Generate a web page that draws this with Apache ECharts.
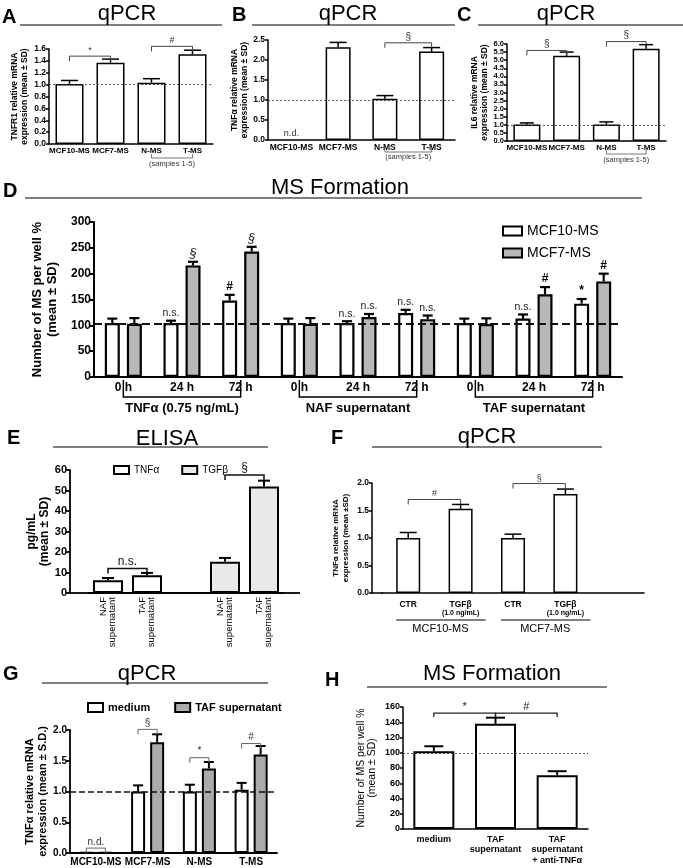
<!DOCTYPE html>
<html>
<head>
<meta charset="utf-8">
<script src="https://cdn.jsdelivr.net/npm/echarts@6.0.0/dist/echarts.min.js"></script>
<style>
html,body{margin:0;padding:0;background:#fff;}
#chart{width:683px;height:868px;}
</style>
</head>
<body>
<div id="chart"></div>
<script>
// ===================== DATA =====================
// Panels A-C
const abcCategories = ['MCF10-MS', 'MCF7-MS', 'N-MS', 'T-MS'];
const abcSamplesNote = '(samples 1-5)';
const aTnfr1 = [1.01, 1.37, 1.03, 1.51];
const aTnfr1Sd = [0.06, 0.06, 0.07, 0.07];
const aSig = [{a: 0, b: 1, y: 1.48, label: '*'}, {a: 2, b: 3, y: 1.645, label: '#'}];
const bTnf = [null, 2.32, 1.03, 2.21];
const bTnfSd = [0, 0.12, 0.08, 0.10];
const bNotes = ['n.d.', '', '', ''];
const bSig = [{a: 2, b: 3, y: 2.43, label: '§'}];
const cIl6 = [1.02, 5.27, 1.02, 5.70];
const cIl6Sd = [0.10, 0.23, 0.16, 0.26];
const cSig = [{a: 0, b: 1, y: 5.6, label: '§'}, {a: 2, b: 3, y: 6.15, label: '§'}];
const abcRef = 1.0;
// Panel D
const dTimes = ['0 h', '24 h', '72 h', '0 h', '24 h', '72 h', '0 h', '24 h', '72 h'];
const dGroups = ['TNFα (0.75 ng/mL)', 'NAF supernatant', 'TAF supernatant'];
const dMcf10 = [104.5, 104.5, 148, 104.5, 104.5, 124, 104.5, 113, 142];
const dMcf10Sd = [8.5, 4.5, 11, 8.5, 3.5, 6, 8.5, 8, 9];
const dMcf7 = [103, 216, 243, 103, 116, 112, 102.5, 160, 185];
const dMcf7Sd = [11, 7, 9, 11, 6, 7, 11, 14, 15];
const dMcf10Sig = ['', 'n.s.', '#', '', 'n.s.', 'n.s.', '', 'n.s.', '*'];
const dMcf7Sig = ['', '§', '§', '', 'n.s.', 'n.s.', '', '#', '#'];
const dRef = 103;
// Panel E
const eCategories = ['NAF\nsupernatant', 'TAF\nsupernatant', '', 'NAF\nsupernatant', 'TAF\nsupernatant'];
const eTnf = [6.2, 8.6, null, null, null];
const eTnfSd = [1.1, 1.2, 0, 0, 0];
const eTgf = [null, null, null, 15.2, 51.9];
const eTgfSd = [0, 0, 0, 1.9, 2.9];
const eSig = [{a: 0, b: 1, y: 11.9, label: 'n.s.'}, {a: 3, b: 4, y: 57.6, label: '§'}];
// Panel F
const fCategories = ['CTR', 'TGFβ', 'CTR', 'TGFβ', ''];
const fDoseNote = '(1.0 ng/mL)';
const fGroups = [{a: 0, b: 1, label: 'MCF10-MS'}, {a: 2, b: 3, label: 'MCF7-MS'}];
const fTnf = [1.0, 1.53, 1.0, 1.80, null];
const fTnfSd = [0.10, 0.08, 0.07, 0.09, 0];
const fSig = [{a: 0, b: 1, y: 1.70, label: '#'}, {a: 2, b: 3, y: 1.99, label: '§'}];
// Panel G
const gCategories = ['MCF10-MS', 'MCF7-MS', 'N-MS', 'T-MS'];
const gMedium = [0.01, 1.0, 1.0, 1.03];
const gMediumSd = [0, 0.10, 0.11, 0.11];
const gTaf = [0.01, 1.80, 1.375, 1.60];
const gTafSd = [0, 0.13, 0.105, 0.14];
const gSig = [
  {a: 0, b: 0, ao: -1, bo: 1, y: 0.08, label: 'n.d.'},
  {a: 1, b: 1, ao: -1, bo: 1, y: 2.01, label: '§'},
  {a: 2, b: 2, ao: -1, bo: 1, y: 1.55, label: '*'},
  {a: 3, b: 3, ao: -1, bo: 1, y: 1.78, label: '#'}
];
const gRef = 1.0;
// Panel H
const hCategories = ['medium', 'TAF\nsupernatant', 'TAF\nsupernatant\n+ anti-TNFα'];
const hMs = [102, 138, 70.6];
const hMsSd = [6.5, 8, 5.2];
const hSig = [{a: 0, b: 1, y: 152, label: '*'}, {a: 1, b: 2, y: 152, label: '#'}];
const hRef = 100;

// ===================== BUILD =====================
const FF = "'Liberation Sans', Arial, Helvetica, sans-serif";
const option = {
  animation: false, backgroundColor: '#fff',
  textStyle: {fontFamily: FF, color: '#000'},
  grid: [], xAxis: [], yAxis: [], series: [], legend: [], graphic: []
};

function panel(p) {
  const gi = option.grid.length;
  const aw = p.axisW || 1.5;
  option.grid.push({left: p.left, top: p.top, width: p.width, height: p.height, containLabel: false, outerBoundsMode: 'none'});
  option.xAxis.push({
    gridIndex: gi, type: 'category', data: p.cats,
    axisLine: {onZero: true, lineStyle: {color: '#000', width: aw}},
    axisTick: {show: false},
    axisLabel: Object.assign({interval: 0, color: '#000', fontSize: p.xFont || 8, fontWeight: 'bold', margin: p.xMargin || 4, fontFamily: FF}, p.xLabel || {})
  });
  option.yAxis.push({
    gridIndex: gi, type: 'value', min: 0, max: p.max, interval: p.interval, offset: p.yOffset || 0,
    splitLine: {show: false},
    axisLine: {show: true, lineStyle: {color: '#000', width: aw}},
    axisTick: {show: true, length: p.tickLen || 3, lineStyle: {color: '#000', width: aw}},
    axisLabel: {color: '#000', fontSize: p.yFont || 8, fontWeight: 'bold', margin: 3, fontFamily: FF,
      formatter: p.dec ? (v => v.toFixed(p.dec)) : (v => String(Math.round(v)))},
    name: p.yName, nameLocation: 'middle', nameGap: p.nameGap, nameRotate: 90,
    nameTextStyle: {color: '#000', fontSize: p.nameFont || 8.5, fontWeight: p.nameWeight || 'bold',
      lineHeight: p.nameLH || 10, fontFamily: FF}
  });
  return gi;
}

function bars(gi, name, vals, o) {
  const s = {
    type: 'bar', name: name, xAxisIndex: gi, yAxisIndex: gi,
    data: vals.map(v => (v == null ? '-' : v)),
    barWidth: o.bw, barGap: o.gap || '30%', z: 2,
    itemStyle: {color: o.color || '#fff', borderColor: '#000', borderWidth: o.border || 1.5}
  };
  if (o.ref != null) {
    s.markLine = {silent: true, symbol: ['none', 'none'], label: {show: false},
      lineStyle: Object.assign({color: '#000', width: 1, type: 'dashed'}, o.refStyle || {}),
      data: [{yAxis: o.ref}]};
  }
  option.series.push(s);
}

function errs(gi, vals, sd, o) {
  option.series.push({
    type: 'custom', xAxisIndex: gi, yAxisIndex: gi, silent: true, z: 5, clip: false,
    data: vals.map((v, i) => [i, v == null ? 0 : v]),
    renderItem: (params, api) => {
      const i = params.dataIndex;
      const v = vals[i], e = sd[i];
      const ch = [];
      const base = api.coord([i, v == null ? 0 : v]);
      const x = base[0] + (o.off || 0);
      let topY = base[1];
      const lw = o.lw || 1.5;
      if (v != null && e > 0) {
        const t = api.coord([i, v + e]);
        ch.push({type: 'line', shape: {x1: x, y1: base[1], x2: x, y2: t[1]}, style: {stroke: '#000', lineWidth: lw}});
        ch.push({type: 'line', shape: {x1: x - o.cap / 2, y1: t[1], x2: x + o.cap / 2, y2: t[1]}, style: {stroke: '#000', lineWidth: lw}});
        topY = t[1];
      }
      const lab = o.notes ? o.notes[i] : '';
      if (lab) {
        const st = (o.noteStyle && o.noteStyle(lab)) || {};
        ch.push({type: 'text', x: x, y: topY - (o.noteGap || 2), style: Object.assign({
          text: lab, align: 'center', verticalAlign: 'bottom', textAlign: 'center', textVerticalAlign: 'bottom',
          fontSize: 10, fontFamily: FF, fill: '#222'}, st)});
      }
      return {type: 'group', children: ch};
    }
  });
}

function brackets(gi, list, o) {
  option.series.push({
    type: 'custom', xAxisIndex: gi, yAxisIndex: gi, silent: true, z: 6, clip: false,
    data: list.map(b => [b.a, b.y]),
    renderItem: (params, api) => {
      const b = list[params.dataIndex];
      const pa = api.coord([b.a, b.y]), pb = api.coord([b.b, b.y]);
      const xa = pa[0] + (b.ao || 0) * (o.slot || 0), xb = pb[0] + (b.bo || 0) * (o.slot || 0);
      const y = pa[1], d = o.drop || 5;
      return {type: 'group', children: [
        {type: 'polyline', shape: {points: [[xa, y + d], [xa, y], [xb, y], [xb, y + d]]},
          style: {stroke: o.color || '#444', lineWidth: o.lw || 1, fill: 'none'}},
        {type: 'text', x: (xa + xb) / 2, y: y - (o.tgap || 1), style: {text: b.label, align: 'center', verticalAlign: 'bottom',
          textAlign: 'center', textVerticalAlign: 'bottom', fontSize: o.fs || 9, fontFamily: FF, fill: o.tcolor || '#333',
          fontWeight: o.fw || 'normal', fontStyle: o.fst || 'normal'}}
      ]};
    }
  });
}

function groupBr(gi, list, o) {
  option.series.push({
    type: 'custom', xAxisIndex: gi, yAxisIndex: gi, silent: true, z: 6, clip: false,
    data: list.map(b => [b.a, 0]),
    renderItem: (params, api) => {
      const b = list[params.dataIndex];
      const pa = api.coord([b.a, 0]), pb = api.coord([b.b, 0]);
      const y0 = pa[1];
      const x1 = pa[0] - (o.extL || 0), x2 = pb[0] + (o.extR || 0);
      const pts = o.tick ? [[x1, y0 + o.t1], [x1, y0 + o.t2], [x2, y0 + o.t2], [x2, y0 + o.t1]] : [[x1, y0 + o.t2], [x2, y0 + o.t2]];
      return {type: 'group', children: [
        {type: 'polyline', shape: {points: pts}, style: {stroke: o.color || '#000', lineWidth: o.lw || 1, fill: 'none'}},
        {type: 'text', x: (pa[0] + pb[0]) / 2 + (o.tdx || 0), y: y0 + o.ty, style: {text: b.label, align: 'center', verticalAlign: 'middle',
          textAlign: 'center', textVerticalAlign: 'middle', fontSize: o.fs || 8, fontFamily: FF, fill: o.tcolor || '#000',
          fontWeight: o.fw || 'normal'}}
      ]};
    }
  });
}

function gtext(x, y, text, size, weight, align) {
  option.graphic.push({type: 'text', x: x, y: y, silent: true, style: {text: text, fill: '#000', fontSize: size, fontWeight: weight || 'normal',
    fontFamily: FF, align: align || 'center', verticalAlign: 'middle', textAlign: align || 'center', textVerticalAlign: 'middle'}});
}
function gline(x1, y1, x2, y2, w) {
  option.graphic.push({type: 'line', silent: true, shape: {x1: x1, y1: y1, x2: x2, y2: y2}, style: {stroke: '#000', lineWidth: w || 1.2}});
}

const thinDot = {type: [2, 2], width: 0.8, color: '#333'};
const sigStyle = lab => lab === '§' ? {fontStyle: 'italic', fontSize: 13} : (lab === 'n.s.' ? {fontSize: 10.5} : {fontSize: 12, fontWeight: 'bold', fill: '#000'});

// ---- Panel A ----
const A = panel({left: 49, top: 49, width: 164, height: 95, cats: abcCategories, max: 1.6, interval: 0.2, dec: 1,
  yFont: 8.5, xFont: 8, xMargin: 3, yName: 'TNFR1 relative mRNA\nexpression (mean ± SD)', nameGap: 20, nameFont: 8.5, nameLH: 9.5});
bars(A, 'A', aTnfr1, {bw: 28, ref: abcRef, refStyle: thinDot});
errs(A, aTnfr1, aTnfr1Sd, {cap: 17});
brackets(A, aSig, {drop: 5});
groupBr(A, [{a: 2, b: 3, label: abcSamplesNote}], {tick: true, t1: 10, t2: 14, ty: 20, fs: 7.5, tcolor: '#333', color: '#555', lw: 0.8});

// ---- Panel B ----
const B = panel({left: 268, top: 40, width: 187, height: 100, cats: abcCategories, max: 2.5, interval: 0.5, dec: 1,
  yFont: 8.5, xFont: 8.5, xMargin: 3, yName: 'TNFα relative mRNA\nexpression (mean ± SD)', nameGap: 15, nameFont: 8.5, nameLH: 10});
bars(B, 'B', bTnf, {bw: 25, ref: abcRef, refStyle: thinDot});
errs(B, bTnf, bTnfSd, {cap: 17, notes: bNotes, noteGap: 0, noteStyle: () => ({fontSize: 9, fill: '#333'})});
brackets(B, bSig, {drop: 5, fs: 10});
groupBr(B, [{a: 2, b: 3, label: abcSamplesNote}], {tick: true, t1: 9, t2: 12, ty: 17, fs: 7.5, tcolor: '#333', color: '#555', lw: 0.8});

// ---- Panel C ----
const C = panel({left: 507, top: 44, width: 159, height: 97, cats: abcCategories, max: 6, interval: 0.5, dec: 1,
  yFont: 7.5, xFont: 8, xMargin: 3, yName: 'IL6 relative mRNA\nexpression (mean ± SD)', nameGap: 17, nameFont: 8.5, nameLH: 10});
bars(C, 'C', cIl6, {bw: 27, ref: abcRef, refStyle: thinDot});
errs(C, cIl6, cIl6Sd, {cap: 14});
brackets(C, cSig, {drop: 5, fs: 10});
groupBr(C, [{a: 2, b: 3, label: abcSamplesNote}], {tick: true, t1: 9, t2: 13, ty: 19, fs: 7.5, tcolor: '#333', color: '#555', lw: 0.8});

// ---- Panel D ----
const D = panel({left: 94, top: 222, width: 528, height: 155, cats: dTimes, max: 300, interval: 50,
  yFont: 12, xFont: 12, xMargin: 5, axisW: 2, tickLen: 4,
  yName: 'Number of MS per well %\n(mean ± SD)', nameGap: 28, nameFont: 13, nameLH: 15});
const dOff = (15 * 1.47) / 2;
bars(D, 'MCF10-MS', dMcf10, {bw: 15, gap: '47%', border: 2.2, ref: dRef, refStyle: {type: [8, 4], width: 2, color: '#111'}});
bars(D, 'MCF7-MS', dMcf7, {bw: 15, gap: '47%', border: 2.2, color: '#b8b8b8'});
errs(D, dMcf10, dMcf10Sd, {cap: 10, lw: 2.2, off: -dOff, notes: dMcf10Sig, noteStyle: sigStyle});
errs(D, dMcf7, dMcf7Sd, {cap: 10, lw: 2.2, off: dOff, notes: dMcf7Sig, noteStyle: sigStyle});
groupBr(D, dGroups.map((g, k) => ({a: k * 3, b: k * 3 + 2, label: g})),
  {tick: true, t1: 3, t2: 20, ty: 31, fs: 13, fw: 'bold', lw: 1.5});
option.legend.push({data: ['MCF10-MS', 'MCF7-MS'], orient: 'vertical', left: 497, top: 219, itemWidth: 19, itemHeight: 9,
  itemGap: 8, icon: 'rect', itemStyle: {borderColor: '#000', borderWidth: 2}, selectedMode: false,
  textStyle: {fontSize: 14, color: '#000', fontFamily: FF}});

// ---- Panel E ----
const E = panel({left: 88.5, top: 470, width: 195, height: 123, cats: eCategories, max: 60, interval: 10, yOffset: 18.5,
  yFont: 11, axisW: 1.8, tickLen: 4, xMargin: 4,
  xLabel: {rotate: 90, fontSize: 9.5, fontWeight: 'normal', lineHeight: 9.5},
  yName: 'pg/mL\n(mean ± SD)', nameGap: 15, nameFont: 12, nameLH: 13});
bars(E, 'TNFα', eTnf, {bw: 30, gap: '-100%', border: 2});
bars(E, 'TGFβ', eTgf, {bw: 30, gap: '-100%', border: 2, color: '#e9e9e9'});
errs(E, eTnf, eTnfSd, {cap: 12, lw: 2});
errs(E, eTgf, eTgfSd, {cap: 12, lw: 2});
brackets(E, eSig, {drop: 5, fs: 12, color: '#111', tcolor: '#111', lw: 1.5});
gline(70, 593, 89, 593, 1.8);
gline(283, 593, 300, 593, 1.8);
option.legend.push({data: ['TNFα', 'TGFβ'], left: 108, top: 460, itemWidth: 15, itemHeight: 8, itemGap: 22, icon: 'rect',
  itemStyle: {borderColor: '#000', borderWidth: 2}, selectedMode: false, textStyle: {fontSize: 10, color: '#000', fontFamily: FF}});

// ---- Panel F ----
const F = panel({left: 382, top: 483, width: 262, height: 110, cats: fCategories, max: 2.0, interval: 0.5, dec: 1, yOffset: 10,
  yFont: 8.5, xMargin: 7,
  xLabel: {formatter: v => (v === 'TGFβ' ? '{b|TGFβ}\n{s|' + fDoseNote + '}' : '{b|' + v + '}'),
    rich: {b: {fontSize: 8.5, fontWeight: 'bold', lineHeight: 9, fontFamily: FF}, s: {fontSize: 7, lineHeight: 8, fontFamily: FF}}},
  yName: 'TNFα relative mRNA\nexpression (mean ±SD)', nameGap: 21, nameFont: 8, nameLH: 10});
bars(F, 'F', fTnf, {bw: 24});
errs(F, fTnf, fTnfSd, {cap: 17});
brackets(F, fSig, {drop: 5, fs: 9});
groupBr(F, fGroups, {tick: false, t2: 27, extL: 12, extR: 25, ty: 36, tdx: 6, fs: 11, lw: 1});
gline(372, 593, 383, 593, 1.5);

// ---- Panel G ----
const G = panel({left: 70, top: 730, width: 207, height: 123, cats: gCategories, max: 2.0, interval: 0.5, dec: 1,
  yFont: 10, xFont: 10, xMargin: 4, axisW: 1.8, tickLen: 4,
  yName: 'TNFα relative mRNA\nexpression (mean ± S.D.)', nameGap: 20, nameFont: 11, nameLH: 13});
const gOff = (14 * 1.36) / 2;
bars(G, 'medium', gMedium, {bw: 14, gap: '36%', border: 2, ref: gRef, refStyle: {type: [6, 3], width: 1.6, color: '#111'}});
bars(G, 'TAF supernatant', gTaf, {bw: 14, gap: '36%', border: 2, color: '#ababab'});
errs(G, gMedium, gMediumSd, {cap: 10, lw: 2, off: -gOff});
errs(G, gTaf, gTafSd, {cap: 10, lw: 2, off: gOff});
brackets(G, gSig, {drop: 5, fs: 10, slot: gOff, color: '#666', tcolor: '#333'});
option.legend.push({data: ['medium', 'TAF supernatant'], left: 82, top: 697, itemWidth: 15, itemHeight: 9, itemGap: 24, icon: 'rect',
  itemStyle: {borderColor: '#000', borderWidth: 2}, selectedMode: false,
  textStyle: {fontSize: 11, fontWeight: 'bold', color: '#000', fontFamily: FF}});

// ---- Panel H ----
const H = panel({left: 403, top: 707, width: 185, height: 122, cats: hCategories, max: 160, interval: 20,
  yFont: 9, xFont: 9, xMargin: 5, axisW: 1.5, xLabel: {lineHeight: 10.5},
  yName: 'Number of MS per well %\n(mean ± SD)', nameGap: 25, nameFont: 10.5, nameLH: 11, nameWeight: 'normal'});
bars(H, 'H', hMs, {bw: 41, border: 2, ref: hRef, refStyle: thinDot});
errs(H, hMs, hMsSd, {cap: 19, lw: 2});
brackets(H, hSig, {drop: 4, fs: 11, color: '#222', tcolor: '#222', lw: 1.3});

// ---- Titles, panel letters, rules ----
const titles = [
  ['A', 2, 17, 'qPCR', 127, 14, 20, 222, 25],
  ['B', 232, 15, 'qPCR', 348, 14, 252, 455, 25],
  ['C', 457, 15, 'qPCR', 566, 14, 478, 683, 25],
  ['D', 3, 191, 'MS Formation', 340, 188, 25, 642, 198],
  ['E', 7, 438, 'ELISA', 167, 439, 53, 268, 447],
  ['F', 331, 438, 'qPCR', 487, 437, 372, 602, 447],
  ['G', 3, 674, 'qPCR', 147, 674, 42, 268, 683],
  ['H', 325, 680, 'MS Formation', 492, 674, 367, 607, 687]
];
titles.forEach(t => {
  gtext(t[1], t[2], t[0], 20, 'bold', 'left');
  gtext(t[4], t[5], t[3], 22, 'normal', 'center');
  gline(t[6], t[8], t[7], t[8], 1.2);
});

const chart = echarts.init(document.getElementById('chart'), null, {renderer: 'canvas'});
chart.setOption(option);
</script>
</body>
</html>
